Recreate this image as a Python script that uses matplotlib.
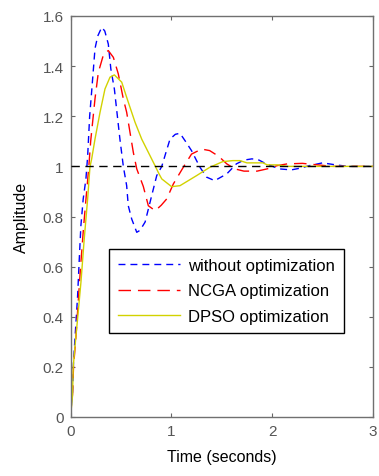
import matplotlib
matplotlib.use("Agg")
import matplotlib.pyplot as plt

plt.rcParams['font.family'] = ['Liberation Sans', 'DejaVu Sans']

# Step responses
t_blue = [0, 0.005, 0.02, 0.03, 0.05, 0.07, 0.087, 0.103, 0.126, 0.153, 0.17, 0.19, 0.21,
          0.243, 0.27, 0.31, 0.34, 0.375, 0.40, 0.435, 0.468, 0.49, 0.524, 0.557, 0.573,
          0.607, 0.657, 0.69, 0.74, 0.805, 0.855, 0.905, 0.95, 0.987, 1.04, 1.086, 1.14,
          1.2, 1.283, 1.35, 1.43, 1.55, 1.645, 1.72, 1.8, 1.87, 1.94, 2.07, 2.19, 2.28,
          2.37, 2.5, 2.63, 2.75, 3.0]
y_blue = [0, 0.03, 0.1, 0.22, 0.35, 0.48, 0.63, 0.763, 0.87, 0.95, 1.04, 1.2, 1.3,
          1.47, 1.52, 1.555, 1.54, 1.488, 1.389, 1.309, 1.189, 1.109, 1.0, 0.923, 0.843,
          0.79, 0.737, 0.745, 0.778, 0.883, 0.963, 1.0, 1.06, 1.109, 1.128, 1.132, 1.10,
          1.063, 0.997, 0.957, 0.943, 0.97, 1.01, 1.025, 1.03, 1.025, 1.01, 0.99, 0.986, 0.993,
          1.003, 1.014, 1.006, 1.0, 1.0]

t_red = [0, 0.005, 0.02, 0.03, 0.054, 0.075, 0.1, 0.13, 0.16, 0.18, 0.2, 0.243, 0.276,
         0.33, 0.375, 0.425, 0.474, 0.524, 0.557, 0.59, 0.623, 0.657, 0.722, 0.772, 0.84,
         0.9, 0.954, 1.02, 1.118, 1.2, 1.3, 1.38, 1.47, 1.55, 1.63, 1.72, 1.85, 1.95, 2.05,
         2.15, 2.3, 2.45, 2.6, 3.0]
y_red = [0, 0.03, 0.09, 0.2, 0.32, 0.45, 0.6, 0.76, 0.9, 0.99, 1.1, 1.27, 1.375,
         1.45, 1.462, 1.435, 1.369, 1.269, 1.216, 1.136, 1.056, 0.99, 0.92, 0.843, 0.823,
         0.845, 0.87, 0.93, 0.996, 1.049, 1.069, 1.063, 1.04, 1.01, 0.99, 0.981, 0.981, 0.99, 1.003,
         1.01, 1.012, 1.006, 1.0, 1.0]

t_yel = [0, 0.005, 0.02, 0.027, 0.054, 0.07, 0.104, 0.136, 0.17, 0.193, 0.21, 0.243, 0.293,
         0.342, 0.392, 0.435, 0.508, 0.573, 0.64, 0.706, 0.772, 0.838, 0.878, 0.905, 1.003,
         1.086, 1.25, 1.38, 1.51, 1.61, 1.68, 1.75, 1.91, 1.95, 2.05, 2.15, 3.0]
y_yel = [0, 0.02, 0.085, 0.2, 0.324, 0.39, 0.54, 0.71, 0.87, 0.998, 1.03, 1.109, 1.216,
         1.309, 1.356, 1.365, 1.336, 1.256, 1.176, 1.109, 1.056, 1.003, 0.97, 0.95, 0.919,
         0.923, 0.963, 0.996, 1.019, 1.023, 1.023, 1.014, 1.014, 1.006, 1.006, 1.0, 1.0]

labels = ['without optimization', 'NCGA optimization', 'DPSO optimization']
x_ticks = [0, 1, 2, 3]
y_ticks = [0, 0.2, 0.4, 0.6, 0.8, 1.0, 1.2, 1.4, 1.6]
y_tick_labels = ['0', '0.2', '0.4', '0.6', '0.8', '1', '1.2', '1.4', '1.6']

fig = plt.figure(figsize=(3.79, 4.77), dpi=100)
ax = fig.add_axes([70.5/379, 59/477, 302.5/379, 401/477])

ax.plot(t_blue, y_blue, color='#0000ff', lw=1.0, dashes=(5, 3.6), label=labels[0])
ax.plot(t_red, y_red, color='#ff0000', lw=1.0, dashes=(9, 5), label=labels[1])
ax.plot(t_yel, y_yel, color='#d2d200', lw=1.0, label=labels[2])
ax.axhline(1.0, color='black', lw=1.0, dashes=(6, 4), zorder=3)

ax.set_xlim(0, 3)
ax.set_ylim(0, 1.6)
ax.set_xticks(x_ticks)
ax.set_xticklabels([str(v) for v in x_ticks])
ax.set_yticks(y_ticks)
ax.set_yticklabels(y_tick_labels)
ax.tick_params(direction='in', length=3, width=0.8, colors='#666666', labelcolor='#555555',
               labelsize=11, top=True, right=True, pad=5)
for s in ax.spines.values():
    s.set_color('#707070')
    s.set_linewidth(1.0)

ax.set_xlabel('Time (seconds)', fontsize=11.5, labelpad=8)
ax.set_ylabel('Amplitude', fontsize=11.5, labelpad=10)

leg = ax.legend(loc='upper left', bbox_to_anchor=(0.128, 0.419), borderaxespad=0,
                fontsize=12, fancybox=False, framealpha=1, edgecolor='black',
                handlelength=3.7, labelspacing=0.62, borderpad=0.55, handletextpad=0.5)
leg.get_frame().set_linewidth(1.0)

fig.savefig('out.png', dpi=100)
